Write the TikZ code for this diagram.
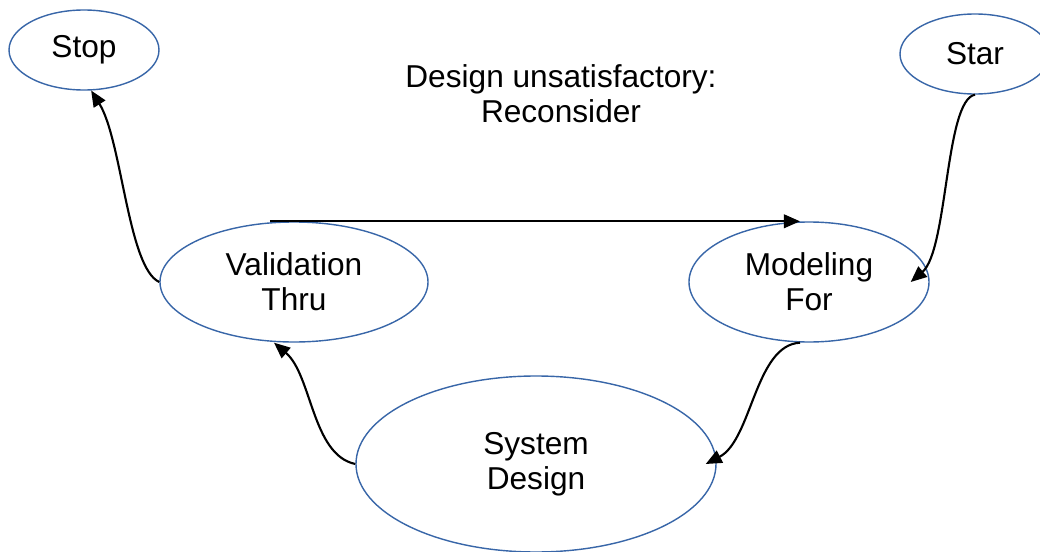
\documentclass[tikz,border=0pt]{standalone}
\usepackage{fontspec}
\setmainfont{Liberation Sans}
\usepackage{xcolor}
\usetikzlibrary{shapes.geometric,arrows.meta}

\definecolor{edgeblue}{RGB}{56,102,168}

\begin{document}
\begin{tikzpicture}[scale=0.2]
        \tikzstyle{every node}+=[inner sep=0pt, align=center, font=\fontsize{18}{20}\selectfont]
        \tikzstyle{phase}=[ellipse, draw=edgeblue, line width=0.8pt]
        \tikzstyle{flow}=[black, line width=1.2pt, -{Triangle[length=0.32cm,width=0.27cm]}]
        \useasboundingbox (0,0) rectangle (104,-55.2);
        % nodes
        \node [phase, minimum width=3cm, minimum height=1.6cm] (sp) at (8.4,-5.0) {Stop};
        \node [phase, minimum width=3cm, minimum height=1.6cm] (sr) at (97.5,-5.4) {Star};
        \node [phase, minimum width=5.36cm, minimum height=2.4cm] (vt) at (29.4,-28.2) {Validation\\Thru};
        \node [phase, minimum width=4.8cm, minimum height=2.4cm] (mf) at (80.9,-28.2) {Modeling\\For};
        \node [phase, minimum width=7.2cm, minimum height=3.52cm] (sd) at (53.6,-46.4) {System\\Design};
        \node (msg) at (56.1,-9.4) {Design unsatisfactory:\\Reconsider};
        % arrows (shifts are in picture units, scale 0.2)
        \draw [flow] (vt.west) .. controls (12.8,-26.8) and (12.2,-14.0) .. (sp.-80);
        \draw [flow] (sr.south) .. controls (94.5,-10.0) and (94.8,-25.0) .. ([xshift=-1.9cm]mf.east);
        \draw [flow] ([xshift=-2.4cm]vt.north) -- ([xshift=-0.9cm]mf.north);
        \draw [flow] ([xshift=-0.9cm]mf.south) .. controls (75.5,-34.5) and (75.2,-44.0) .. ([xshift=-1.1cm]sd.east);
        \draw [flow] (sd.west) .. controls (31.2,-45.5) and (31.2,-37.5) .. ([xshift=-2cm]vt.south);
\end{tikzpicture}
\end{document}
